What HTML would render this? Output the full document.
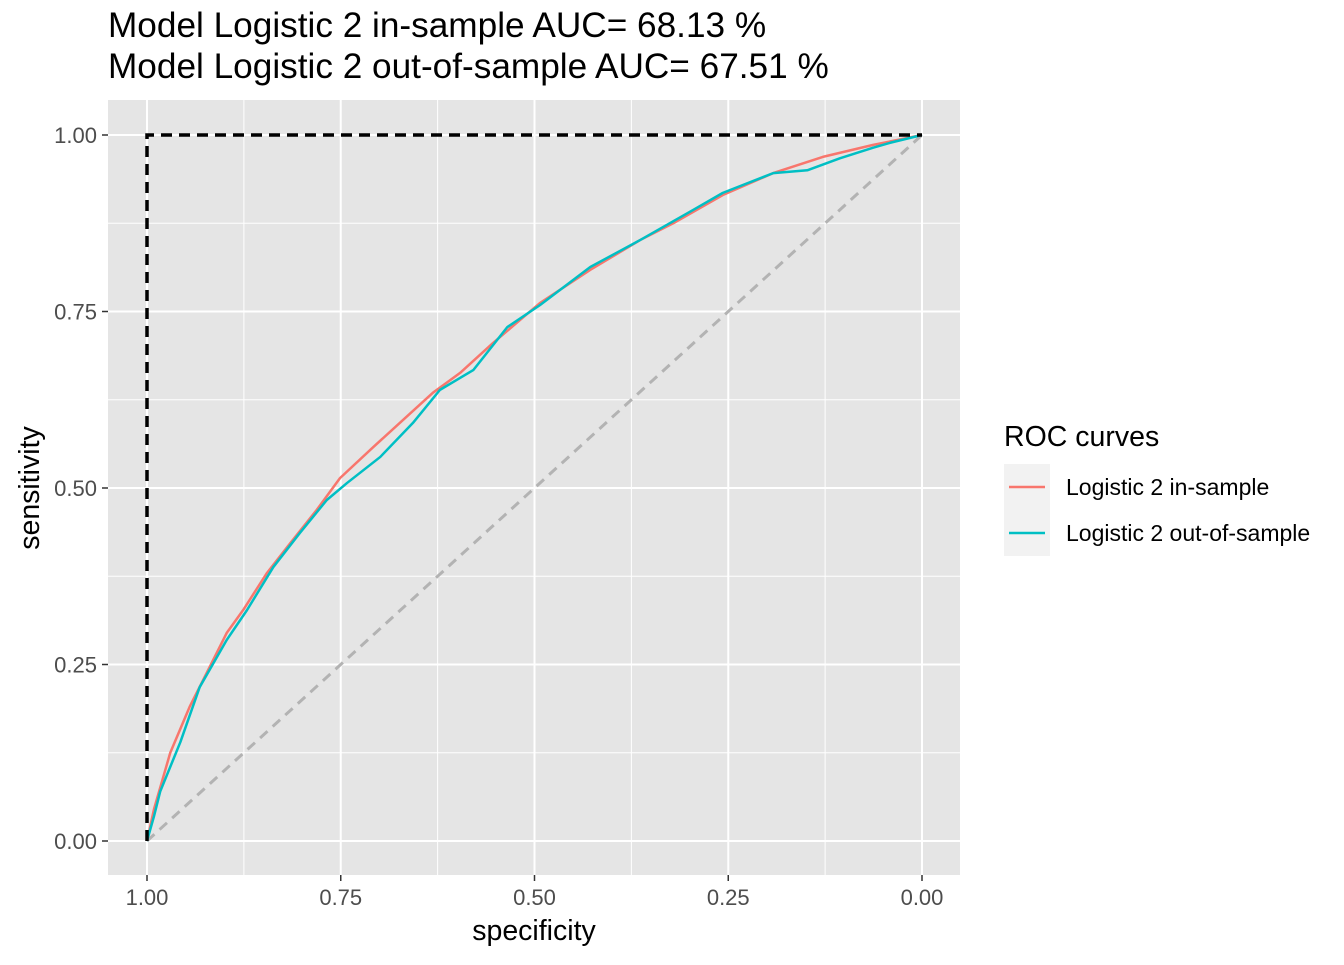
<!DOCTYPE html>
<html><head><meta charset="utf-8"><style>
body{margin:0;background:#fff;font-family:"Liberation Sans",Arial,sans-serif}
</style></head><body>
<svg width="1344" height="960" xmlns="http://www.w3.org/2000/svg" font-family="Liberation Sans, Arial, sans-serif">
<text x="108" y="37" font-size="35.2">Model Logistic 2 in-sample AUC= 68.13 %</text>
<text x="108" y="78" font-size="35.2">Model Logistic 2 out-of-sample AUC= 67.51 %</text>
<rect x="108" y="100" width="852" height="775" fill="#e5e5e5"/>
<g id="grid"></g>
<g id="marks"></g>
<g id="axes"></g>
<text x="534" y="940" font-size="28.5" text-anchor="middle">specificity</text>
<text transform="translate(39,488) rotate(-90)" font-size="28.5" text-anchor="middle">sensitivity</text>
<g>
<text x="1004" y="446" font-size="28.5">ROC curves</text>
<rect x="1004" y="464" width="46" height="46" fill="#f2f2f2"/>
<line x1="1009" y1="487" x2="1045" y2="487" stroke="#F8766D" stroke-width="2.5"/>
<text x="1066" y="495" font-size="23">Logistic 2 in-sample</text>
<rect x="1004" y="510" width="46" height="46" fill="#f2f2f2"/>
<line x1="1009" y1="533" x2="1045" y2="533" stroke="#00BFC4" stroke-width="2.5"/>
<text x="1066" y="541" font-size="23">Logistic 2 out-of-sample</text>
</g>
</svg>
<script>
const ticks=[0,0.25,0.5,0.75,1];
const tickLabels=["0.00","0.25","0.50","0.75","1.00"];
const inSpec=[1,0.991,0.97,0.945,0.923,0.897,0.876,0.845,0.815,0.781,0.751,0.708,0.665,0.631,0.596,0.554,0.493,0.428,0.364,0.321,0.257,0.192,0.128,0.063,0];
const inSens=[0,0.045,0.125,0.19,0.238,0.295,0.327,0.38,0.422,0.469,0.514,0.558,0.601,0.635,0.663,0.705,0.762,0.809,0.851,0.875,0.915,0.946,0.969,0.986,1];
const outSpec=[1,0.991,0.983,0.957,0.932,0.897,0.871,0.837,0.803,0.768,0.742,0.699,0.657,0.622,0.579,0.535,0.493,0.428,0.364,0.295,0.257,0.192,0.148,0.106,0.063,0.041,0];
const outSens=[0,0.035,0.07,0.14,0.218,0.285,0.327,0.388,0.436,0.483,0.507,0.544,0.592,0.639,0.667,0.728,0.759,0.813,0.851,0.894,0.918,0.946,0.95,0.967,0.982,0.989,1];
const NS="http://www.w3.org/2000/svg";
const X=v=>922-v*775, Y=v=>841-v*706;
function mk(tag,attrs,parent){const e=document.createElementNS(NS,tag);for(const k in attrs)e.setAttribute(k,attrs[k]);document.getElementById(parent).appendChild(e);return e;}
for(let i=0;i<4;i++){const m=(ticks[i]+ticks[i+1])/2;
let e=mk('line',{x1:X(m),x2:X(m),y1:100,y2:875,stroke:'#fff','stroke-width':1},'grid');


e=mk('line',{x1:108,x2:960,y1:Y(m),y2:Y(m),stroke:'#fff','stroke-width':1},'grid');

}
ticks.forEach((t,i)=>{
let e=mk('line',{x1:X(t),x2:X(t),y1:100,y2:875,stroke:'#fff','stroke-width':2},'grid');


e=mk('line',{x1:108,x2:960,y1:Y(t),y2:Y(t),stroke:'#fff','stroke-width':2},'grid');


e=mk('line',{x1:X(t),x2:X(t),y1:875,y2:881,stroke:'#333','stroke-width':1.5},'axes');


e=mk('text',{x:X(t),y:905,'font-size':22,fill:'#4d4d4d','text-anchor':'middle'},'axes');e.textContent=tickLabels[i];


e=mk('line',{x1:102,x2:108,y1:Y(t),y2:Y(t),stroke:'#333','stroke-width':1.5},'axes');


e=mk('text',{x:97,y:Y(t)+8,'font-size':22,fill:'#4d4d4d','text-anchor':'end'},'axes');e.textContent=tickLabels[i];


});
let e=mk('line',{x1:X(1),y1:Y(0),x2:X(0),y2:Y(1),stroke:'#b3b3b3','stroke-width':3,'stroke-dasharray':'10 7'},'marks');


function path(xs,ys){return xs.map((s,i)=>(i?'L':'M')+X(s)+','+Y(ys[i])).join(' ');}
e=mk('path',{d:path(inSpec,inSens),fill:'none',stroke:'#F8766D','stroke-width':2.5,'stroke-linejoin':'round'},'marks');


e=mk('path',{d:path(outSpec,outSens),fill:'none',stroke:'#00BFC4','stroke-width':2.5,'stroke-linejoin':'round'},'marks');


e=mk('path',{d:'M'+X(1)+','+Y(0)+' L'+X(1)+','+Y(1)+' L'+X(0)+','+Y(1),fill:'none',stroke:'#000','stroke-width':3.5,'stroke-dasharray':'11 7'},'marks');


</script>
</body></html>
